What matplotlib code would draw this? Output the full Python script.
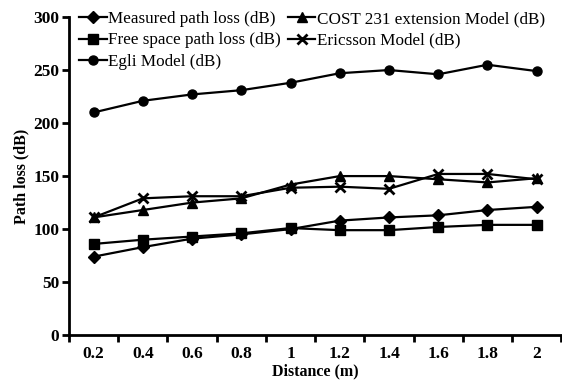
import matplotlib.pyplot as plt
from matplotlib.ticker import FixedLocator

distance = ["0.2", "0.4", "0.6", "0.8", "1", "1.2", "1.4", "1.6", "1.8", "2"]
measured = [74, 83, 91, 95, 100, 108, 111, 113, 118, 121]
free_space = [86, 90, 93, 96, 101, 99, 99, 102, 104, 104]
egli = [210, 221, 227, 231, 238, 247, 250, 246, 255, 249]
cost231 = [111, 118, 125, 129, 142, 150, 150, 147, 144, 148]
ericsson = [111, 129, 131, 131, 139, 140, 138, 152, 152, 147]

plt.rcParams["font.family"] = ["Liberation Serif", "DejaVu Serif"]

fig = plt.figure(figsize=(5.62, 3.87), dpi=100)
ax = fig.add_axes([0.1228, 0.134, 0.876, 0.822])

x = list(range(len(distance)))
kw = dict(color="black", lw=1.6, ms=6.5)
ax.plot(x, measured, marker="D", ms=6, label="Measured path loss (dB)", color="black", lw=1.6)
ax.plot(x, free_space, marker="s", label="Free space path loss (dB)", **kw)
ax.plot(x, egli, marker="o", label="Egli Model (dB)", **kw)
ax.plot(x, cost231, marker="^", label="COST 231 extension Model (dB)", **kw)
ax.plot(x, ericsson, marker="x", mew=2, label="Ericsson Model (dB)", **kw)

ax.set_xlim(-0.5, 9.5)
ax.set_ylim(0, 300)
ax.set_yticks([0, 50, 100, 150, 200, 250, 300])

# tick marks sit between categories, labels at category centres
ax.xaxis.set_major_locator(FixedLocator([i + 0.5 for i in range(-1, 10)]))
ax.xaxis.set_major_formatter(plt.NullFormatter())
ax.xaxis.set_minor_locator(FixedLocator(x))
ax.set_xticklabels(distance, minor=True)
ax.tick_params(axis="x", which="minor", length=0, pad=8)
ax.tick_params(axis="both", which="major", width=2, length=5, direction="out")
ax.tick_params(axis="y", pad=2)
for lbl in ax.get_xticklabels(minor=True) + ax.get_yticklabels():
    lbl.set_fontsize(12.5)
    lbl.set_fontweight("bold")

for side in ("top", "right"):
    ax.spines[side].set_visible(False)
for side in ("left", "bottom"):
    ax.spines[side].set_linewidth(2)

ax.set_xlabel("Distance (m)", fontsize=11.5, fontweight="bold", labelpad=1)
ax.set_ylabel("Path loss (dB)", fontsize=11.5, fontweight="bold", labelpad=3)

ax.legend(ncol=2, loc="upper left", bbox_to_anchor=(0.0, 1.05), frameon=False,
          fontsize=12.3, handlelength=1.6, handletextpad=0.1, columnspacing=0.4,
          labelspacing=0.3, borderaxespad=0.2)

fig.savefig("out.png", dpi=100)
